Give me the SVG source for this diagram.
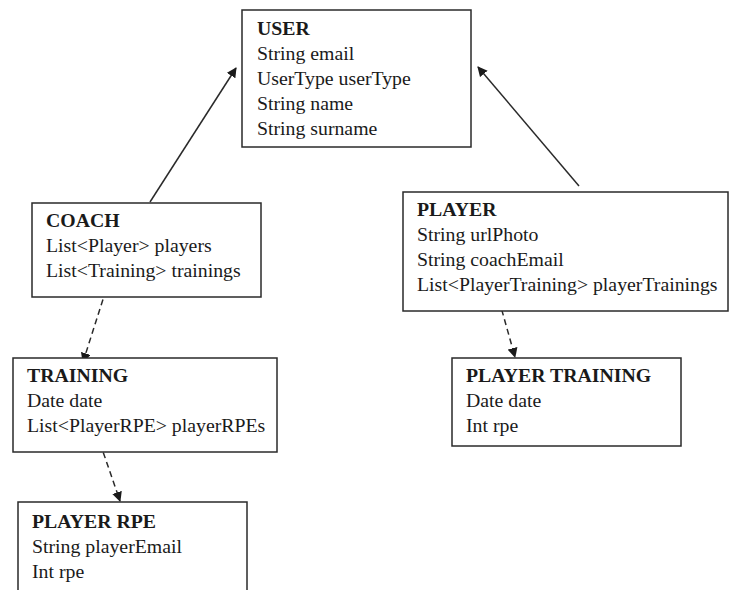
<svg xmlns="http://www.w3.org/2000/svg" width="739" height="590" viewBox="0 0 739 590">
  <style>
    .box { fill: #ffffff; stroke: #2a2a2a; stroke-width: 1.5; }
    text { font-family: "Liberation Serif", "DejaVu Serif", serif; font-size: 19.8px; fill: #1a1a1a; }
    .title { font-weight: bold; }
    .solid { stroke: #2a2a2a; stroke-width: 1.5; fill: none; marker-end: url(#head); }
    .dashed { stroke: #2a2a2a; stroke-width: 1.5; fill: none; stroke-dasharray: 6 4; marker-end: url(#head); }
  </style>
  <defs>
    <marker id="head" viewBox="0 0 10 10" refX="9" refY="5" markerWidth="10" markerHeight="10" markerUnits="userSpaceOnUse" orient="auto">
      <path d="M0,0 L10,5 L0,10 Z" fill="#1a1a1a"/>
    </marker>
  </defs>
  <rect width="739" height="590" fill="#ffffff"/>

  <g id="connectors">
    <line class="solid" x1="150" y1="202" x2="236" y2="68"/>
    <line class="solid" x1="579" y1="186" x2="478" y2="67"/>
    <line class="dashed" x1="106" y1="290" x2="83" y2="362"/>
    <line class="dashed" x1="100" y1="443" x2="120" y2="501"/>
    <line class="dashed" x1="499" y1="300" x2="515" y2="357"/>
  </g>

  <g id="user">
    <rect class="box" x="242" y="10" width="229" height="137"/>
    <text class="title" x="257" y="35">USER</text>
    <text x="257" y="60">String email</text>
    <text x="257" y="85">UserType userType</text>
    <text x="257" y="110">String name</text>
    <text x="257" y="135">String surname</text>
  </g>

  <g id="coach">
    <rect class="box" x="32" y="203" width="229" height="94"/>
    <text class="title" x="46" y="227">COACH</text>
    <text x="46" y="252">List&lt;Player&gt; players</text>
    <text x="46" y="277">List&lt;Training&gt; trainings</text>
  </g>

  <g id="player">
    <rect class="box" x="403" y="192" width="325" height="119"/>
    <text class="title" x="417" y="216">PLAYER</text>
    <text x="417" y="241">String urlPhoto</text>
    <text x="417" y="266">String coachEmail</text>
    <text x="417" y="291">List&lt;PlayerTraining&gt; playerTrainings</text>
  </g>

  <g id="training">
    <rect class="box" x="13" y="358" width="264" height="94"/>
    <text class="title" x="27" y="382">TRAINING</text>
    <text x="27" y="407">Date date</text>
    <text x="27" y="432">List&lt;PlayerRPE&gt; playerRPEs</text>
  </g>

  <g id="player-training">
    <rect class="box" x="452" y="358" width="229" height="88"/>
    <text class="title" x="466" y="382">PLAYER TRAINING</text>
    <text x="466" y="407">Date date</text>
    <text x="466" y="432">Int rpe</text>
  </g>

  <g id="player-rpe">
    <rect class="box" x="18" y="502" width="229" height="100"/>
    <text class="title" x="32" y="528">PLAYER RPE</text>
    <text x="32" y="553">String playerEmail</text>
    <text x="32" y="578">Int rpe</text>
  </g>
</svg>
